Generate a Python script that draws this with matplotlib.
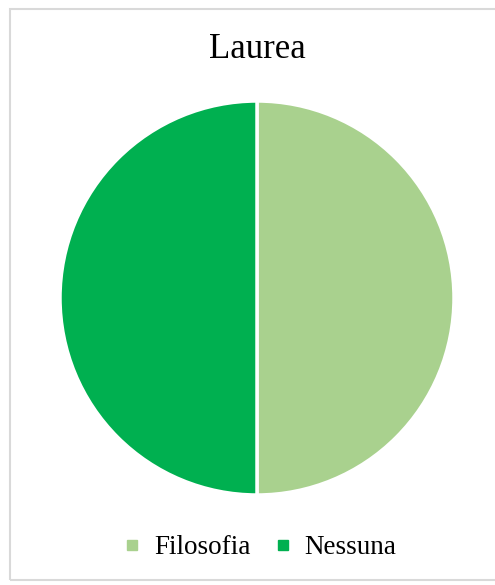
import matplotlib.pyplot as plt
from matplotlib.patches import Rectangle
from matplotlib.lines import Line2D

# Data
labels = ["Filosofia", "Nessuna"]
values = [50, 50]
colors = ["#A9D18E", "#00B050"]
title = "Laurea"

plt.rcParams['font.family'] = ['Liberation Serif', 'DejaVu Serif']

fig = plt.figure(figsize=(4.95, 5.85), dpi=100)

# light gray chart border
fig.patches.append(Rectangle((10/495, 5/585), 490/495, 570/585 + 0.002,
                             transform=fig.transFigure, fill=False,
                             edgecolor="#D9D9D9", linewidth=1.5))

# pie axes: center (257, 298), radius ~197 px
r = 197
cx, cy = 257, 298
ax = fig.add_axes([(cx - r) / 495, 1 - (cy + r) / 585, 2 * r / 495, 2 * r / 585])
ax.pie(values, colors=colors, startangle=90, counterclock=False,
       wedgeprops=dict(edgecolor="white", linewidth=2.5))
ax.set_xlim(-1, 1)
ax.set_ylim(-1, 1)
ax.set_aspect("auto")
ax.axis("off")

fig.text(257 / 495, 1 - 50 / 585, title, ha="center", va="center", fontsize=25)

handles = [Line2D([], [], marker="s", linestyle="none", markersize=7,
                  markerfacecolor=c, markeredgecolor=c) for c in colors]
fig.legend(handles, labels, loc="center", bbox_to_anchor=(259 / 495, 1 - 548 / 585),
           ncol=2, frameon=False, fontsize=19.5, handletextpad=0.4,
           columnspacing=0.8, handlelength=0.8)

fig.savefig("out.png", dpi=100)
